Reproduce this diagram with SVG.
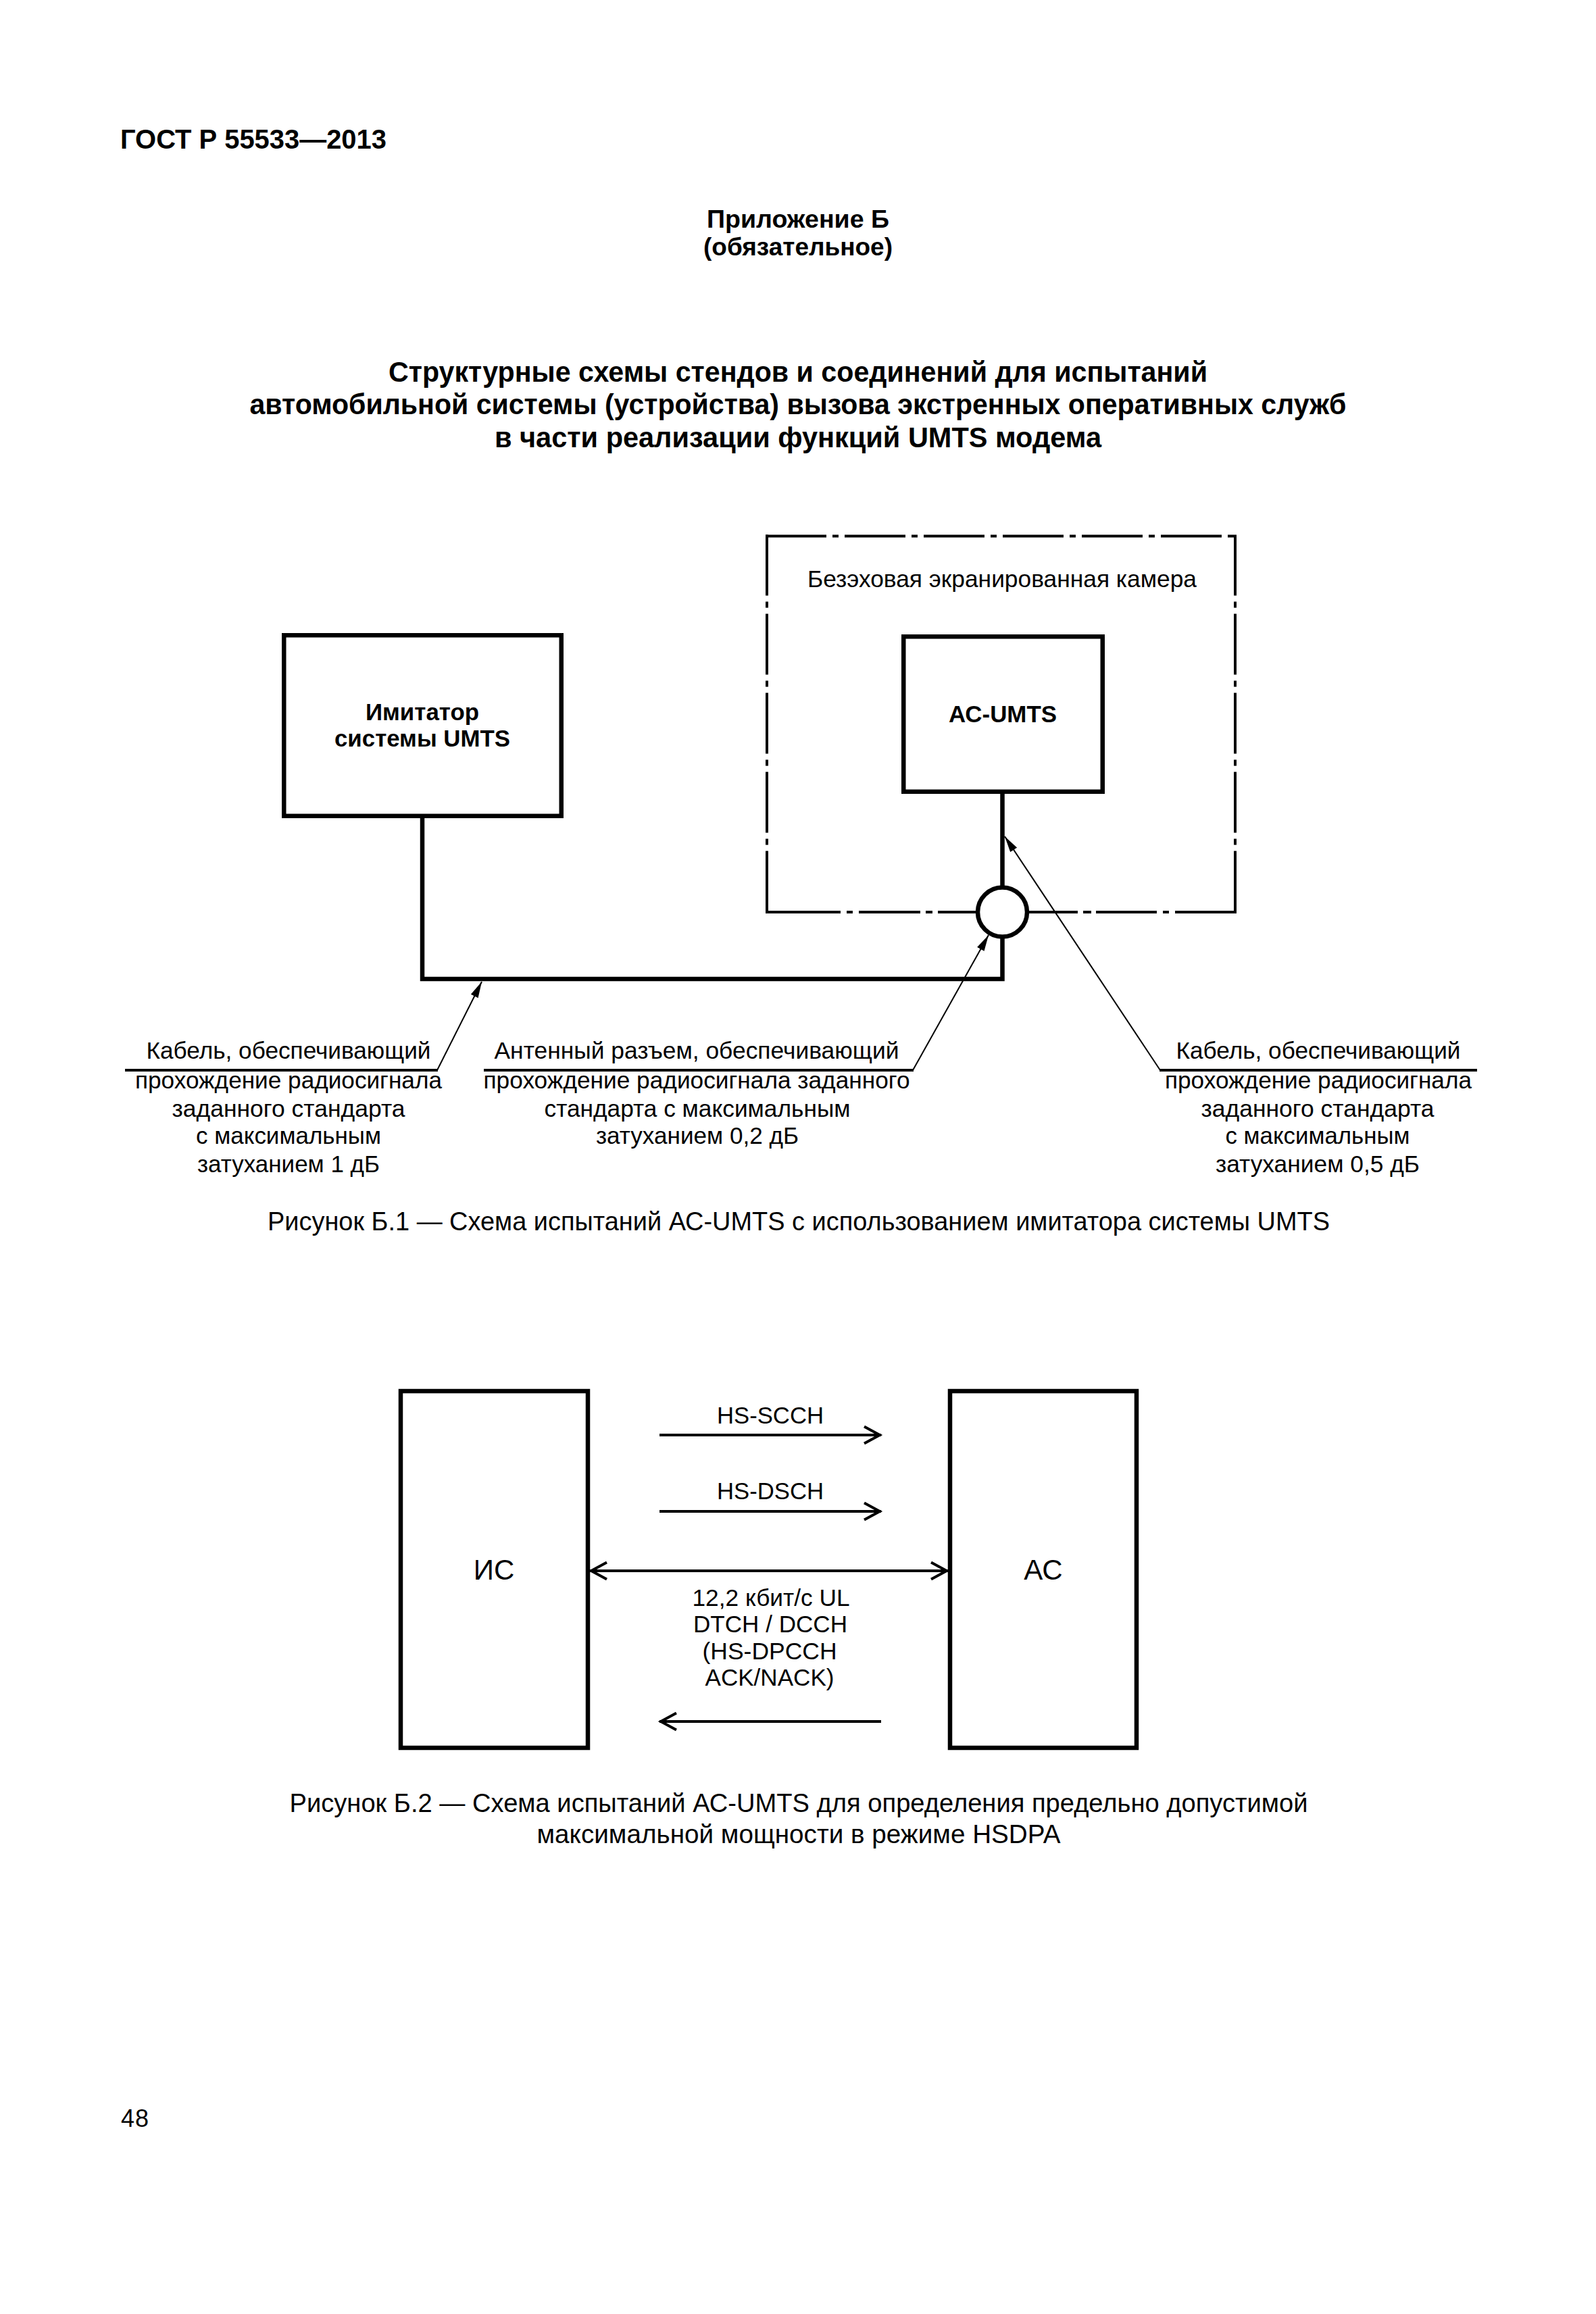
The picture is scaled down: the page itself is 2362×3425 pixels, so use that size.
<svg xmlns="http://www.w3.org/2000/svg" width="2362" height="3425" viewBox="0 0 2362 3425">
<style>
.t{font-family:"Liberation Sans",Arial,sans-serif;fill:#000}
.b{font-weight:bold}
.m{text-anchor:middle}
.box{fill:none;stroke:#000;stroke-width:6.5}
.wire{fill:none;stroke:#000;stroke-width:6.5;stroke-linejoin:miter}
.dash{fill:none;stroke:#000;stroke-width:4;stroke-dasharray:90 9 9 9}
.solid4{fill:none;stroke:#000;stroke-width:4}
.lead{fill:none;stroke:#000;stroke-width:2;marker-end:url(#tri)}
.arr{fill:none;stroke:#000;stroke-width:4}
</style>
<defs>
<marker id="tri" markerUnits="userSpaceOnUse" markerWidth="24" markerHeight="12" viewBox="0 0 24 12" refX="24" refY="6" orient="auto">
<path d="M0,0 L24,6 L0,12 z" fill="#000"/>
</marker>
<marker id="chev" markerUnits="userSpaceOnUse" markerWidth="40" markerHeight="40" refX="27" refY="12.5" orient="auto-start-reverse" overflow="visible">
<path d="M2,0 L25,12.5 L2,25" fill="none" stroke="#000" stroke-width="4"/>
</marker>
</defs>
<rect width="2362" height="3425" fill="#fff"/>

<g id="page-text">
<text class="t b" x="178" y="220" font-size="40" textLength="394" lengthAdjust="spacingAndGlyphs">ГОСТ Р 55533—2013</text>
<text class="t b m" x="1181" y="337" font-size="36" textLength="270" lengthAdjust="spacingAndGlyphs">Приложение Б</text>
<text class="t b m" x="1181" y="378" font-size="36" textLength="280" lengthAdjust="spacingAndGlyphs">(обязательное)</text>
<text class="t b m" x="1181" y="565" font-size="42" textLength="1212" lengthAdjust="spacingAndGlyphs">Структурные схемы стендов и соединений для испытаний</text>
<text class="t b m" x="1181" y="613" font-size="42" textLength="1623" lengthAdjust="spacingAndGlyphs">автомобильной системы (устройства) вызова экстренных оперативных служб</text>
<text class="t b m" x="1181" y="662" font-size="42" textLength="898" lengthAdjust="spacingAndGlyphs">в части реализации функций UMTS модема</text>
<text class="t m" x="1182" y="1821" font-size="39" textLength="1572" lengthAdjust="spacingAndGlyphs">Рисунок Б.1 — Схема испытаний АС-UMTS с использованием имитатора системы UMTS</text>
<text class="t m" x="1182" y="2682" font-size="39" textLength="1507" lengthAdjust="spacingAndGlyphs">Рисунок Б.2 — Схема испытаний АС-UMTS для определения предельно допустимой</text>
<text class="t m" x="1182" y="2728" font-size="39" textLength="775" lengthAdjust="spacingAndGlyphs">максимальной мощности в режиме HSDPA</text>
<text class="t" x="179" y="3148" font-size="36" textLength="41">48</text>
</g>

<g id="chamber">
<path class="dash" d="M1133,793.5 H1830"/>
<path class="dash" d="M1135,791.5 V1352"/>
<path class="dash" d="M1828,791.5 V1352"/>
<path class="solid4" d="M1133,1350 H1244 M1253,1350 H1262 M1271,1350 H1362 M1370,1350 H1380 M1388,1350 H1447 M1520,1350 H1595 M1603,1350 H1615 M1622,1350 H1712 M1721,1350 H1730 M1739,1350 H1830"/>
<text class="t m" x="1483" y="869" font-size="35" textLength="576" lengthAdjust="spacingAndGlyphs">Безэховая экранированная камера</text>
</g>

<g id="imitator">
<rect class="box" x="420.25" y="940.25" width="410.5" height="267.5"/>
<text class="t b m" x="625" y="1066" font-size="35" textLength="168" lengthAdjust="spacingAndGlyphs">Имитатор</text>
<text class="t b m" x="625" y="1105" font-size="35" textLength="260" lengthAdjust="spacingAndGlyphs">системы UMTS</text>
</g>

<g id="ac-umts">
<rect class="box" x="1337.25" y="942.25" width="294.5" height="229.5"/>
<text class="t b m" x="1484" y="1069" font-size="35" textLength="160" lengthAdjust="spacingAndGlyphs">АС-UMTS</text>
</g>

<g id="connectors">
<path class="wire" d="M625,1208 V1449 H1483.5 V1380"/>
<path class="wire" d="M1483.5,1172 V1320"/>
<line class="lead" x1="647" y1="1584" x2="713" y2="1453"/>
<line class="lead" x1="1351" y1="1584" x2="1463" y2="1384"/>
<line class="lead" x1="1717" y1="1584" x2="1487" y2="1238"/>
<line class="arr" x1="976" y1="2124" x2="1304" y2="2124" marker-end="url(#chev)"/>
<line class="arr" x1="976" y1="2237" x2="1304" y2="2237" marker-end="url(#chev)"/>
<line class="arr" x1="873" y1="2325" x2="1403" y2="2325" marker-start="url(#chev)" marker-end="url(#chev)"/>
<line class="arr" x1="1304" y1="2548" x2="976" y2="2548" marker-end="url(#chev)"/>
</g>

<g id="antenna-connector">
<circle cx="1483.5" cy="1350" r="36.5" fill="#fff" stroke="#000" stroke-width="6.5"/>
</g>

<g id="label-cable-1">
<line class="solid4" x1="185" y1="1584" x2="648" y2="1584"/>
<text class="t m" x="427" y="1567" font-size="35" textLength="421" lengthAdjust="spacingAndGlyphs">Кабель, обеспечивающий</text>
<text class="t m" x="427" y="1611" font-size="35" textLength="454" lengthAdjust="spacingAndGlyphs">прохождение радиосигнала</text>
<text class="t m" x="427" y="1653" font-size="35" textLength="345" lengthAdjust="spacingAndGlyphs">заданного стандарта</text>
<text class="t m" x="427" y="1693" font-size="35" textLength="274" lengthAdjust="spacingAndGlyphs">с максимальным</text>
<text class="t m" x="427" y="1735" font-size="35" textLength="270" lengthAdjust="spacingAndGlyphs">затуханием 1 дБ</text>
</g>

<g id="label-antenna">
<line class="solid4" x1="716" y1="1584" x2="1352" y2="1584"/>
<text class="t m" x="1031" y="1567" font-size="35" textLength="599" lengthAdjust="spacingAndGlyphs">Антенный разъем, обеспечивающий</text>
<text class="t m" x="1031" y="1611" font-size="35" textLength="631" lengthAdjust="spacingAndGlyphs">прохождение радиосигнала заданного</text>
<text class="t m" x="1032" y="1653" font-size="35" textLength="453" lengthAdjust="spacingAndGlyphs">стандарта с максимальным</text>
<text class="t m" x="1032" y="1693" font-size="35" textLength="300" lengthAdjust="spacingAndGlyphs">затуханием 0,2 дБ</text>
</g>

<g id="label-cable-2">
<line class="solid4" x1="1716" y1="1584" x2="2186" y2="1584"/>
<text class="t m" x="1951" y="1567" font-size="35" textLength="421" lengthAdjust="spacingAndGlyphs">Кабель, обеспечивающий</text>
<text class="t m" x="1951" y="1611" font-size="35" textLength="454" lengthAdjust="spacingAndGlyphs">прохождение радиосигнала</text>
<text class="t m" x="1950" y="1653" font-size="35" textLength="345" lengthAdjust="spacingAndGlyphs">заданного стандарта</text>
<text class="t m" x="1950" y="1693" font-size="35" textLength="273" lengthAdjust="spacingAndGlyphs">с максимальным</text>
<text class="t m" x="1950" y="1735" font-size="35" textLength="302" lengthAdjust="spacingAndGlyphs">затуханием 0,5 дБ</text>
</g>

<g id="is">
<rect class="box" x="593" y="2059" width="277" height="528" stroke-width="6"/>
<text class="t m" x="731" y="2338" font-size="42">ИС</text>
</g>

<g id="as">
<rect class="box" x="1406" y="2059" width="276" height="528" stroke-width="6"/>
<text class="t m" x="1544" y="2338" font-size="42">АС</text>
</g>

<g id="channel-labels">
<text class="t m" x="1140" y="2107" font-size="35" textLength="158" lengthAdjust="spacingAndGlyphs">HS-SCCH</text>
<text class="t m" x="1140" y="2219" font-size="35" textLength="158" lengthAdjust="spacingAndGlyphs">HS-DSCH</text>
<text class="t m" x="1141" y="2377" font-size="35" textLength="233" lengthAdjust="spacingAndGlyphs">12,2 кбит/с UL</text>
<text class="t m" x="1140" y="2416" font-size="35" textLength="228" lengthAdjust="spacingAndGlyphs">DTCH / DCCH</text>
<text class="t m" x="1139" y="2456" font-size="35" textLength="199" lengthAdjust="spacingAndGlyphs">(HS-DPCCH</text>
<text class="t m" x="1139" y="2495" font-size="35" textLength="191" lengthAdjust="spacingAndGlyphs">ACK/NACK)</text>
</g>
</svg>
